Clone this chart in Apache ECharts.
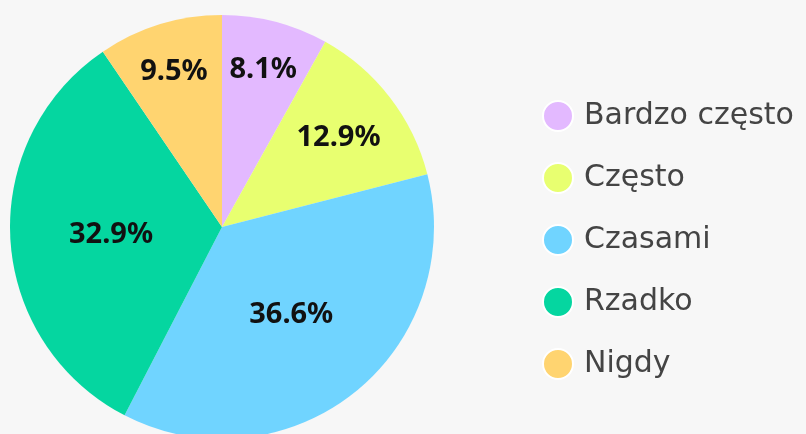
<!DOCTYPE html>
<html>
<head>
<meta charset="utf-8">
<script src="https://cdn.jsdelivr.net/npm/echarts@6/dist/echarts.min.js"></script>
<style>
  html, body { margin: 0; padding: 0; background: #f7f7f7; }
  #main { width: 806px; height: 434px; }
</style>
</head>
<body>
<div id="main"></div>
<script>
// dane z wykresu
const categories = ['Bardzo często', 'Często', 'Czasami', 'Rzadko', 'Nigdy'];
const values = [8.1, 12.9, 36.6, 32.9, 9.5];
const colors = ['#e3b9ff', '#e8ff70', '#70d4ff', '#05d6a0', '#ffd470'];

const chartDom = document.getElementById('main');
const myChart = echarts.init(chartDom);

const cx = 222, cy = 227;

const option = {
    backgroundColor: '#f7f7f7',
    animation: false,
    legend: {
        orient: 'vertical',
        left: 537,
        top: 95,
        icon: 'circle',
        itemWidth: 30,
        itemHeight: 30,
        itemGap: 30,
        itemStyle: { borderColor: '#ffffff', borderWidth: 2 },
        textStyle: {
            fontFamily: 'DejaVu Sans',
            fontSize: 30,
            color: '#444444',
            padding: [0, 0, 0, 6]
        },
        data: categories
    },
    series: [
        {
            type: 'pie',
            center: [cx, cy],
            radius: 212,
            startAngle: 90,
            clockwise: true,
            data: categories.map(function (name, i) {
                return { name: name, value: values[i], itemStyle: { color: colors[i] } };
            }),
            label: {
                position: 'inside',
                formatter: function (p) { return p.value.toFixed(1) + '%'; },
                fontFamily: 'Noto Sans',
                fontWeight: 'bold',
                fontSize: 29,
                color: '#111111'
            },
            labelLine: { show: false },
            // małe wycinki: etykieta dalej od środka
            labelLayout: function (params) {
                const r = params.labelRect;
                const lx = r.x + r.width / 2;
                const ly = r.y + r.height / 2;
                const v = values[params.dataIndex];
                const k = v < 10 ? 1.5 : (v < 15 ? 1.35 : 1.02);
                return {
                    x: cx + (lx - cx) * k,
                    y: cy + (ly - cy) * k + 1,
                    align: 'center',
                    verticalAlign: 'middle'
                };
            }
        }
    ]
};

myChart.setOption(option);
</script>
</body>
</html>
